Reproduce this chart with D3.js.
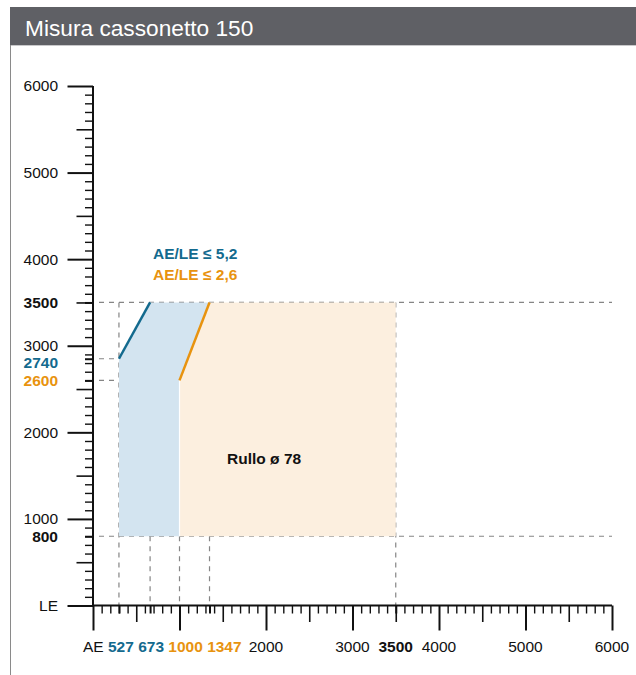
<!DOCTYPE html>
<html>
<head>
<meta charset="utf-8">
<script src="https://cdn.jsdelivr.net/npm/d3@7"></script>
<style>
  body { margin: 0; background: #fff; }
  svg { display: block; font-family: "Liberation Sans", Arial, Helvetica, sans-serif; }
</style>
</head>
<body>
<svg width="636" height="675"></svg>
<script>
// values (AE = width, LE = height, mm)
var title = "Misura cassonetto 150";
var aeLabels = ["527", "673", "1000", "1347"];
var aeDrawnAt = [300, 660, 1000, 1347];   // where the drawing puts those limits
var leLabels = ["2740", "2600"];
var leDrawnAt = [2850, 2600];
var leMin = 800, leMax = 3500, aeMax = 3500;
var axisLabels = [1000, 2000, 3000, 4000, 5000, 6000];
var ratioLabels = ["AE/LE \u2264 5,2", "AE/LE \u2264 2,6"];
var rollLabel = "Rullo \u00f8 78";

var blue = "#136a8e", orange = "#e8930f";

var svg = d3.select("svg");

var x = d3.scaleLinear().domain([0, 6000]).range([93, 612]),
	y = d3.scaleLinear().domain([0, 6000]).range([605.5, 86]);

// header
svg.append("rect").attr("x", 10).attr("y", 7).attr("width", 626).attr("height", 38).attr("fill", "#5f6065");
svg.append("line").attr("x1", 10).attr("x2", 636).attr("y1", 45.5).attr("y2", 45.5).attr("stroke", "#c9c9cb");
svg.append("line").attr("x1", 10.5).attr("x2", 10.5).attr("y1", 45).attr("y2", 675).attr("stroke", "#8a8a8a");
svg.append("text").attr("x", 25).attr("y", 35.5).attr("fill", "#fff").attr("font-size", 22.7).text(title);

var dash = svg.append("g").attr("stroke", "#858585").attr("stroke-width", 1.2).attr("stroke-dasharray", "5,5").attr("fill", "none");
function dashed(g, x1, y1, x2, y2) {
	g.append("line").attr("x1", x1).attr("y1", y1).attr("x2", x2).attr("y2", y2);
}

// short marker dashes (below the fills)
dashed(dash, x(0) + 6, y(leDrawnAt[0]), x(aeDrawnAt[0]), y(leDrawnAt[0]));
dashed(dash, x(0) + 6, y(leDrawnAt[1]), x(aeDrawnAt[2]), y(leDrawnAt[1]));

// areas
var blueArea = [[aeDrawnAt[0], leMin], [aeDrawnAt[0], leDrawnAt[0]], [aeDrawnAt[1], leMax],
	[aeDrawnAt[3], leMax], [aeDrawnAt[2], leDrawnAt[1]], [aeDrawnAt[2], leMin]];
var orangeArea = [[aeDrawnAt[2], leMin], [aeDrawnAt[2], leDrawnAt[1]], [aeDrawnAt[3], leMax],
	[aeMax, leMax], [aeMax, leMin]];

var line = d3.line().x(function(d){ return x(d[0]); }).y(function(d){ return y(d[1]); });

svg.append("path").attr("d", line(blueArea) + "Z").attr("fill", "#d3e4f0");
svg.append("path").attr("d", line(orangeArea) + "Z").attr("fill", "#fcefdf");
svg.append("path").attr("d", line([[aeDrawnAt[2], leMin], [aeDrawnAt[2], leDrawnAt[1]]]))
	.attr("stroke", "#fff").attr("stroke-width", 1.2);

// limit lines
svg.append("path").attr("d", line([[aeDrawnAt[0], leDrawnAt[0]], [aeDrawnAt[1], leMax]]))
	.attr("stroke", blue).attr("stroke-width", 2.5).attr("fill", "none");
svg.append("path").attr("d", line([[aeDrawnAt[2], leDrawnAt[1]], [aeDrawnAt[3], leMax]]))
	.attr("stroke", orange).attr("stroke-width", 2.5).attr("fill", "none");

// long dashes (on top)
dashed(dash, x(0) + 6, y(leMax), x(6000), y(leMax));
dashed(dash, x(0) + 6, y(leMin), x(6000), y(leMin));
dashed(dash, x(aeDrawnAt[0]), y(leMax), x(aeDrawnAt[0]), y(0));
dashed(dash, x(aeMax), y(leMax), x(aeMax), y(0));
[aeDrawnAt[1], aeDrawnAt[2], aeDrawnAt[3]].forEach(function(v){
	dashed(dash, x(v), y(leMin), x(v), y(0));
});

// axes: ticks in three lengths plus marker ticks
function ticks(axis, values, size, width) {
	var g = svg.append("g")
		.attr("transform", axis === "x" ? "translate(0," + y(0) + ")" : "translate(" + x(0) + ",0)")
		.call((axis === "x" ? d3.axisBottom(x) : d3.axisLeft(y))
			.tickValues(values).tickSize(size).tickSizeOuter(0).tickFormat(""));
	g.select(".domain").remove();
	g.selectAll("line").attr("stroke", "#111").attr("stroke-width", width);
}
var minor = d3.range(0, 6001, 100).filter(function(v){ return v % 500 !== 0; }),
	mid = d3.range(500, 6000, 1000),
	major = d3.range(0, 6001, 1000);

ticks("x", minor, 8, 1.4);
ticks("x", mid, 16.5, 1.6);
ticks("x", major, 25, 2);
ticks("x", aeDrawnAt.concat([aeMax]), 8, 2);
ticks("y", minor, 8, 1.4);
ticks("y", mid, 16.5, 1.6);
ticks("y", major, 25.5, 2);
ticks("y", leDrawnAt.concat([leMin, leMax]), 8, 2);

svg.append("line").attr("x1", x(0)).attr("x2", x(6000)).attr("y1", y(0)).attr("y2", y(0))
	.attr("stroke", "#111").attr("stroke-width", 2);
svg.append("line").attr("x1", x(0)).attr("x2", x(0)).attr("y1", y(0) + 1).attr("y2", y(6000))
	.attr("stroke", "#111").attr("stroke-width", 2);

// y labels
var fs = 15.5;
var yl = svg.append("g").attr("font-size", fs).attr("text-anchor", "end");
function ylabel(txt, ypos, color, bold) {
	yl.append("text").attr("x", 58).attr("y", ypos).attr("dy", "0.35em")
		.attr("fill", color).attr("font-weight", bold ? "bold" : "normal").text(txt);
}
axisLabels.forEach(function(v){ ylabel(v, y(v), "#111", false); });
ylabel("LE", y(0), "#111", false);
ylabel(leMax, y(leMax), "#111", true);
ylabel(leMin, y(leMin), "#111", true);
ylabel(leLabels[0], (y(3000) + y(leDrawnAt[1])) / 2, blue, true);
ylabel(leLabels[1], y(leDrawnAt[1]), orange, true);

// x labels
var xl = svg.append("g").attr("font-size", fs);
var baseY = 651.5;
axisLabels.slice(1).forEach(function(v){
	xl.append("text").attr("x", x(v)).attr("y", baseY).attr("text-anchor", "middle").attr("fill", "#111").text(v);
});
xl.append("text").attr("x", x(aeMax)).attr("y", baseY).attr("text-anchor", "middle")
	.attr("font-weight", "bold").attr("fill", "#111").text(aeMax);

var row = xl.append("text").attr("x", x(0) - 10).attr("y", baseY);
row.append("tspan").attr("fill", "#111").text("AE ");
aeLabels.forEach(function(t, i){
	row.append("tspan").attr("fill", i < 2 ? blue : orange).attr("font-weight", "bold")
		.text(t + (i < aeLabels.length - 1 ? " " : ""));
});

// annotations
svg.append("text").attr("x", 153).attr("y", 253.5).attr("dy", "0.35em").attr("font-size", fs)
	.attr("font-weight", "bold").attr("fill", blue).text(ratioLabels[0]);
svg.append("text").attr("x", 153).attr("y", 274.5).attr("dy", "0.35em").attr("font-size", fs)
	.attr("font-weight", "bold").attr("fill", orange).text(ratioLabels[1]);
svg.append("text").attr("x", x(1550)).attr("y", y(1700)).attr("dy", "0.35em").attr("font-size", fs)
	.attr("font-weight", "bold").attr("fill", "#111").text(rollLabel);
</script>
</body>
</html>
